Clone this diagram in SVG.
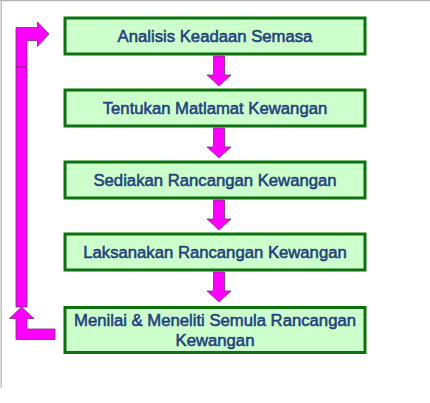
<svg xmlns="http://www.w3.org/2000/svg" width="430" height="403" viewBox="0 0 430 403">
<style>
.box{fill:#ccffcc;stroke:#0d6f0d;stroke-width:3}
.lbl{font-family:"Liberation Sans",Arial,sans-serif;font-size:16.7px;fill:#24407f;stroke:#24407f;stroke-width:0.55;text-anchor:middle}
.arr{fill:#ff00ff;stroke:#7a2a7a;stroke-width:0.8;stroke-linejoin:miter}
</style>
<rect x="0" y="0" width="430" height="403" fill="#ffffff"/>
<line x1="0" y1="0.5" x2="430" y2="0.5" stroke="#b4b4b4" stroke-width="1.5"/>
<line x1="1.2" y1="0" x2="1.2" y2="388" stroke="#c0c0c0" stroke-width="1.5"/>
<g id="connectors">
<path class="arr" d="M16,67 L16,27.5 L37.5,27.5 L37.5,22 L49,34 L37.5,46.5 L37.5,40.5 L27,40.5 L27,67 Z"/>
<rect class="arr" x="16" y="67" width="11" height="240"/>
<path class="arr" d="M21.5,307 L34,318.5 L27,318.5 L27,329 L55,329 L55,339.5 L16,339.5 L16,318.5 L9.5,318.5 Z"/>
<path class="arr" d="M213.5,56 L224.5,56 L224.5,75 L231,75 L219,86 L207,75 L213.5,75 Z"/>
<path class="arr" d="M213.5,128 L224.5,128 L224.5,147 L231,147 L219,158 L207,147 L213.5,147 Z"/>
<path class="arr" d="M213.5,200 L224.5,200 L224.5,219 L231,219 L219,230 L207,219 L213.5,219 Z"/>
<path class="arr" d="M213.5,272 L224.5,272 L224.5,291 L231,291 L219,302 L207,291 L213.5,291 Z"/>
</g>
<g id="node1">
<rect class="box" x="65" y="18" width="300" height="36"/>
<text class="lbl" x="215" y="42">Analisis Keadaan Semasa</text>
</g>
<g id="node2">
<rect class="box" x="65" y="90" width="300" height="36"/>
<text class="lbl" x="215" y="114">Tentukan Matlamat Kewangan</text>
</g>
<g id="node3">
<rect class="box" x="65" y="162" width="300" height="36"/>
<text class="lbl" x="215" y="186">Sediakan Rancangan Kewangan</text>
</g>
<g id="node4">
<rect class="box" x="65" y="234" width="300" height="36"/>
<text class="lbl" x="215" y="258">Laksanakan Rancangan Kewangan</text>
</g>
<g id="node5">
<rect class="box" x="65" y="307.5" width="300" height="45"/>
<text class="lbl" x="215" y="325.5">Menilai &amp; Meneliti Semula Rancangan</text>
<text class="lbl" x="215" y="345.5">Kewangan</text>
</g>
</svg>
